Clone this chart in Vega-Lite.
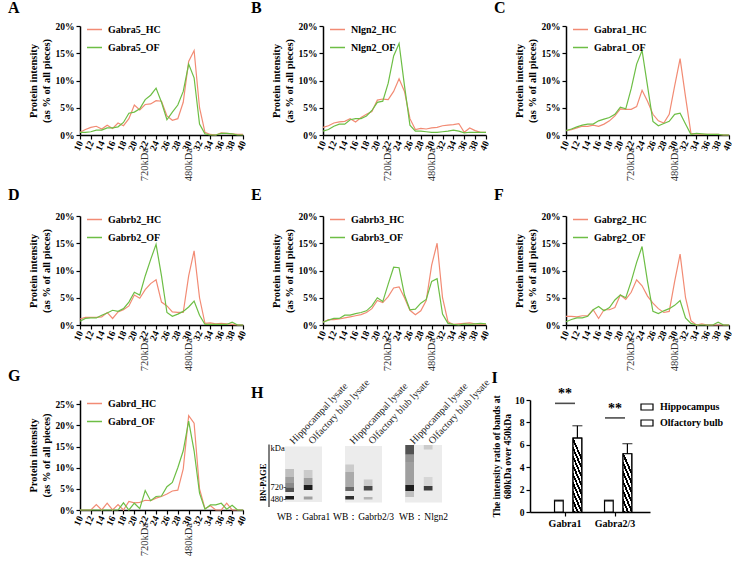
{
  "$schema": "https://vega.github.io/schema/vega-lite/v6.json",
  "padding": {"left": 8, "top": 0, "right": 0, "bottom": 0},
  "background": "white",
  "datasets": {
    "fractions": [
      {"gene": "Gabra5", "fraction": 10, "HC": 0.5, "OF": 0.5},
      {"gene": "Gabra5", "fraction": 11, "HC": 1.0, "OF": 0.5},
      {"gene": "Gabra5", "fraction": 12, "HC": 1.4, "OF": 0.6},
      {"gene": "Gabra5", "fraction": 13, "HC": 1.6, "OF": 0.9},
      {"gene": "Gabra5", "fraction": 14, "HC": 1.1, "OF": 0.9},
      {"gene": "Gabra5", "fraction": 15, "HC": 1.8, "OF": 1.3},
      {"gene": "Gabra5", "fraction": 16, "HC": 1.2, "OF": 1.3},
      {"gene": "Gabra5", "fraction": 17, "HC": 2.2, "OF": 1.5},
      {"gene": "Gabra5", "fraction": 18, "HC": 1.7, "OF": 2.3},
      {"gene": "Gabra5", "fraction": 19, "HC": 3.0, "OF": 4.0},
      {"gene": "Gabra5", "fraction": 20, "HC": 5.5, "OF": 4.2},
      {"gene": "Gabra5", "fraction": 21, "HC": 4.6, "OF": 4.8},
      {"gene": "Gabra5", "fraction": 22, "HC": 5.6, "OF": 6.5},
      {"gene": "Gabra5", "fraction": 23, "HC": 5.7, "OF": 7.3},
      {"gene": "Gabra5", "fraction": 24, "HC": 6.3, "OF": 8.6},
      {"gene": "Gabra5", "fraction": 25, "HC": 6.2, "OF": 6.0},
      {"gene": "Gabra5", "fraction": 26, "HC": 3.5, "OF": 2.8},
      {"gene": "Gabra5", "fraction": 27, "HC": 2.7, "OF": 4.2},
      {"gene": "Gabra5", "fraction": 28, "HC": 3.0, "OF": 5.5},
      {"gene": "Gabra5", "fraction": 29, "HC": 6.0, "OF": 8.0},
      {"gene": "Gabra5", "fraction": 30, "HC": 13.5, "OF": 13.0},
      {"gene": "Gabra5", "fraction": 31, "HC": 15.5, "OF": 10.5},
      {"gene": "Gabra5", "fraction": 32, "HC": 5.0, "OF": 2.0},
      {"gene": "Gabra5", "fraction": 33, "HC": 0.5, "OF": 0.2},
      {"gene": "Gabra5", "fraction": 34, "HC": 0.1, "OF": 0.0},
      {"gene": "Gabra5", "fraction": 35, "HC": 0.0, "OF": 0.0},
      {"gene": "Gabra5", "fraction": 36, "HC": 0.4, "OF": 0.3},
      {"gene": "Gabra5", "fraction": 37, "HC": 0.3, "OF": 0.3},
      {"gene": "Gabra5", "fraction": 38, "HC": 0.2, "OF": 0.2},
      {"gene": "Gabra5", "fraction": 39, "HC": 0.1, "OF": 0.0},
      {"gene": "Gabra5", "fraction": 40, "HC": 0.1, "OF": 0.0},

      {"gene": "Nlgn2", "fraction": 10, "HC": 1.4, "OF": 0.7},
      {"gene": "Nlgn2", "fraction": 11, "HC": 1.7, "OF": 1.0},
      {"gene": "Nlgn2", "fraction": 12, "HC": 2.2, "OF": 1.6},
      {"gene": "Nlgn2", "fraction": 13, "HC": 2.4, "OF": 2.0},
      {"gene": "Nlgn2", "fraction": 14, "HC": 2.5, "OF": 2.0},
      {"gene": "Nlgn2", "fraction": 15, "HC": 3.0, "OF": 2.8},
      {"gene": "Nlgn2", "fraction": 16, "HC": 2.4, "OF": 3.0},
      {"gene": "Nlgn2", "fraction": 17, "HC": 3.2, "OF": 3.0},
      {"gene": "Nlgn2", "fraction": 18, "HC": 3.8, "OF": 3.5},
      {"gene": "Nlgn2", "fraction": 19, "HC": 4.3, "OF": 4.5},
      {"gene": "Nlgn2", "fraction": 20, "HC": 6.4, "OF": 6.0},
      {"gene": "Nlgn2", "fraction": 21, "HC": 6.6, "OF": 6.2},
      {"gene": "Nlgn2", "fraction": 22, "HC": 6.5, "OF": 9.5},
      {"gene": "Nlgn2", "fraction": 23, "HC": 8.0, "OF": 14.5},
      {"gene": "Nlgn2", "fraction": 24, "HC": 10.3, "OF": 16.8},
      {"gene": "Nlgn2", "fraction": 25, "HC": 8.0, "OF": 9.0},
      {"gene": "Nlgn2", "fraction": 26, "HC": 3.0, "OF": 1.8},
      {"gene": "Nlgn2", "fraction": 27, "HC": 1.0, "OF": 0.7},
      {"gene": "Nlgn2", "fraction": 28, "HC": 1.2, "OF": 0.7},
      {"gene": "Nlgn2", "fraction": 29, "HC": 1.1, "OF": 0.6},
      {"gene": "Nlgn2", "fraction": 30, "HC": 1.3, "OF": 0.5},
      {"gene": "Nlgn2", "fraction": 31, "HC": 1.4, "OF": 0.5},
      {"gene": "Nlgn2", "fraction": 32, "HC": 1.7, "OF": 0.6},
      {"gene": "Nlgn2", "fraction": 33, "HC": 1.8, "OF": 0.7},
      {"gene": "Nlgn2", "fraction": 34, "HC": 1.9, "OF": 0.9},
      {"gene": "Nlgn2", "fraction": 35, "HC": 2.1, "OF": 0.7},
      {"gene": "Nlgn2", "fraction": 36, "HC": 0.5, "OF": 0.4},
      {"gene": "Nlgn2", "fraction": 37, "HC": 1.3, "OF": 0.5},
      {"gene": "Nlgn2", "fraction": 38, "HC": 0.8, "OF": 0.5},
      {"gene": "Nlgn2", "fraction": 39, "HC": 0.5, "OF": 0.5},
      {"gene": "Nlgn2", "fraction": 40, "HC": 0.5, "OF": 0.5},

      {"gene": "Gabra1", "fraction": 10, "HC": 0.8, "OF": 0.8},
      {"gene": "Gabra1", "fraction": 11, "HC": 1.0, "OF": 1.1},
      {"gene": "Gabra1", "fraction": 12, "HC": 1.3, "OF": 1.5},
      {"gene": "Gabra1", "fraction": 13, "HC": 1.6, "OF": 1.8},
      {"gene": "Gabra1", "fraction": 14, "HC": 1.6, "OF": 2.0},
      {"gene": "Gabra1", "fraction": 15, "HC": 1.8, "OF": 2.0},
      {"gene": "Gabra1", "fraction": 16, "HC": 1.6, "OF": 2.6},
      {"gene": "Gabra1", "fraction": 17, "HC": 2.0, "OF": 2.9},
      {"gene": "Gabra1", "fraction": 18, "HC": 2.6, "OF": 3.2},
      {"gene": "Gabra1", "fraction": 19, "HC": 3.5, "OF": 3.8},
      {"gene": "Gabra1", "fraction": 20, "HC": 4.8, "OF": 5.1},
      {"gene": "Gabra1", "fraction": 21, "HC": 4.7, "OF": 4.8},
      {"gene": "Gabra1", "fraction": 22, "HC": 4.7, "OF": 8.5},
      {"gene": "Gabra1", "fraction": 23, "HC": 5.2, "OF": 13.0},
      {"gene": "Gabra1", "fraction": 24, "HC": 8.2, "OF": 15.5},
      {"gene": "Gabra1", "fraction": 25, "HC": 6.2, "OF": 9.0},
      {"gene": "Gabra1", "fraction": 26, "HC": 3.8, "OF": 2.5},
      {"gene": "Gabra1", "fraction": 27, "HC": 2.6, "OF": 1.7},
      {"gene": "Gabra1", "fraction": 28, "HC": 2.2, "OF": 2.1},
      {"gene": "Gabra1", "fraction": 29, "HC": 3.8, "OF": 2.5},
      {"gene": "Gabra1", "fraction": 30, "HC": 9.0, "OF": 3.8},
      {"gene": "Gabra1", "fraction": 31, "HC": 14.0, "OF": 4.0},
      {"gene": "Gabra1", "fraction": 32, "HC": 7.0, "OF": 2.0},
      {"gene": "Gabra1", "fraction": 33, "HC": 0.3, "OF": 0.1},
      {"gene": "Gabra1", "fraction": 34, "HC": 0.2, "OF": 0.3},
      {"gene": "Gabra1", "fraction": 35, "HC": 0.1, "OF": 0.2},
      {"gene": "Gabra1", "fraction": 36, "HC": 0.1, "OF": 0.1},
      {"gene": "Gabra1", "fraction": 37, "HC": 0.1, "OF": 0.1},
      {"gene": "Gabra1", "fraction": 38, "HC": 0.1, "OF": 0.1},
      {"gene": "Gabra1", "fraction": 39, "HC": 0.0, "OF": 0.0},
      {"gene": "Gabra1", "fraction": 40, "HC": 0.0, "OF": 0.0},

      {"gene": "Gabrb2", "fraction": 10, "HC": 1.1, "OF": 0.7},
      {"gene": "Gabrb2", "fraction": 11, "HC": 1.4, "OF": 1.2},
      {"gene": "Gabrb2", "fraction": 12, "HC": 1.4, "OF": 1.3},
      {"gene": "Gabrb2", "fraction": 13, "HC": 1.4, "OF": 1.3},
      {"gene": "Gabrb2", "fraction": 14, "HC": 1.5, "OF": 1.8},
      {"gene": "Gabrb2", "fraction": 15, "HC": 2.3, "OF": 2.2},
      {"gene": "Gabrb2", "fraction": 16, "HC": 1.2, "OF": 2.7},
      {"gene": "Gabrb2", "fraction": 17, "HC": 2.4, "OF": 2.5},
      {"gene": "Gabrb2", "fraction": 18, "HC": 2.8, "OF": 3.0},
      {"gene": "Gabrb2", "fraction": 19, "HC": 3.5, "OF": 4.2},
      {"gene": "Gabrb2", "fraction": 20, "HC": 5.5, "OF": 6.0},
      {"gene": "Gabrb2", "fraction": 21, "HC": 4.9, "OF": 5.5},
      {"gene": "Gabrb2", "fraction": 22, "HC": 6.5, "OF": 9.0},
      {"gene": "Gabrb2", "fraction": 23, "HC": 7.6, "OF": 12.0},
      {"gene": "Gabrb2", "fraction": 24, "HC": 8.3, "OF": 14.8},
      {"gene": "Gabrb2", "fraction": 25, "HC": 4.2, "OF": 9.0},
      {"gene": "Gabrb2", "fraction": 26, "HC": 3.5, "OF": 2.3},
      {"gene": "Gabrb2", "fraction": 27, "HC": 2.4, "OF": 1.6},
      {"gene": "Gabrb2", "fraction": 28, "HC": 2.3, "OF": 2.0},
      {"gene": "Gabrb2", "fraction": 29, "HC": 2.3, "OF": 2.5},
      {"gene": "Gabrb2", "fraction": 30, "HC": 9.0, "OF": 3.3},
      {"gene": "Gabrb2", "fraction": 31, "HC": 13.6, "OF": 4.4},
      {"gene": "Gabrb2", "fraction": 32, "HC": 5.0, "OF": 1.8},
      {"gene": "Gabrb2", "fraction": 33, "HC": 0.3, "OF": 0.1},
      {"gene": "Gabrb2", "fraction": 34, "HC": 0.4, "OF": 0.1},
      {"gene": "Gabrb2", "fraction": 35, "HC": 0.2, "OF": 0.1},
      {"gene": "Gabrb2", "fraction": 36, "HC": 0.3, "OF": 0.1},
      {"gene": "Gabrb2", "fraction": 37, "HC": 0.2, "OF": 0.1},
      {"gene": "Gabrb2", "fraction": 38, "HC": 0.1, "OF": 0.5},
      {"gene": "Gabrb2", "fraction": 39, "HC": 0.0, "OF": 0.0},
      {"gene": "Gabrb2", "fraction": 40, "HC": 0.0, "OF": 0.0},

      {"gene": "Gabrb3", "fraction": 10, "HC": 0.5, "OF": 0.5},
      {"gene": "Gabrb3", "fraction": 11, "HC": 1.0, "OF": 0.9},
      {"gene": "Gabrb3", "fraction": 12, "HC": 1.0, "OF": 1.2},
      {"gene": "Gabrb3", "fraction": 13, "HC": 1.1, "OF": 1.2},
      {"gene": "Gabrb3", "fraction": 14, "HC": 1.3, "OF": 1.8},
      {"gene": "Gabrb3", "fraction": 15, "HC": 1.5, "OF": 1.8},
      {"gene": "Gabrb3", "fraction": 16, "HC": 1.7, "OF": 2.1},
      {"gene": "Gabrb3", "fraction": 17, "HC": 1.9, "OF": 2.3},
      {"gene": "Gabrb3", "fraction": 18, "HC": 2.3, "OF": 2.6},
      {"gene": "Gabrb3", "fraction": 19, "HC": 3.0, "OF": 3.5},
      {"gene": "Gabrb3", "fraction": 20, "HC": 4.5, "OF": 5.0},
      {"gene": "Gabrb3", "fraction": 21, "HC": 4.1, "OF": 4.3},
      {"gene": "Gabrb3", "fraction": 22, "HC": 5.2, "OF": 7.5},
      {"gene": "Gabrb3", "fraction": 23, "HC": 6.8, "OF": 10.6},
      {"gene": "Gabrb3", "fraction": 24, "HC": 7.0, "OF": 10.5},
      {"gene": "Gabrb3", "fraction": 25, "HC": 5.0, "OF": 5.5},
      {"gene": "Gabrb3", "fraction": 26, "HC": 2.7, "OF": 2.8},
      {"gene": "Gabrb3", "fraction": 27, "HC": 1.9, "OF": 2.9},
      {"gene": "Gabrb3", "fraction": 28, "HC": 2.6, "OF": 4.0},
      {"gene": "Gabrb3", "fraction": 29, "HC": 4.5, "OF": 4.7},
      {"gene": "Gabrb3", "fraction": 30, "HC": 11.0, "OF": 8.0},
      {"gene": "Gabrb3", "fraction": 31, "HC": 15.0, "OF": 8.5},
      {"gene": "Gabrb3", "fraction": 32, "HC": 5.0, "OF": 2.0},
      {"gene": "Gabrb3", "fraction": 33, "HC": 0.6, "OF": 0.3},
      {"gene": "Gabrb3", "fraction": 34, "HC": 0.1, "OF": 0.1},
      {"gene": "Gabrb3", "fraction": 35, "HC": 0.2, "OF": 0.0},
      {"gene": "Gabrb3", "fraction": 36, "HC": 0.3, "OF": 0.2},
      {"gene": "Gabrb3", "fraction": 37, "HC": 0.4, "OF": 0.1},
      {"gene": "Gabrb3", "fraction": 38, "HC": 0.2, "OF": 0.2},
      {"gene": "Gabrb3", "fraction": 39, "HC": 0.1, "OF": 0.3},
      {"gene": "Gabrb3", "fraction": 40, "HC": 0.1, "OF": 0.2},

      {"gene": "Gabrg2", "fraction": 10, "HC": 1.6, "OF": 0.6},
      {"gene": "Gabrg2", "fraction": 11, "HC": 1.6, "OF": 1.0},
      {"gene": "Gabrg2", "fraction": 12, "HC": 1.5, "OF": 1.3},
      {"gene": "Gabrg2", "fraction": 13, "HC": 1.7, "OF": 1.3},
      {"gene": "Gabrg2", "fraction": 14, "HC": 1.7, "OF": 1.6},
      {"gene": "Gabrg2", "fraction": 15, "HC": 2.8, "OF": 2.8},
      {"gene": "Gabrg2", "fraction": 16, "HC": 1.2, "OF": 3.4},
      {"gene": "Gabrg2", "fraction": 17, "HC": 2.8, "OF": 2.6},
      {"gene": "Gabrg2", "fraction": 18, "HC": 2.8, "OF": 3.2},
      {"gene": "Gabrg2", "fraction": 19, "HC": 3.2, "OF": 4.6},
      {"gene": "Gabrg2", "fraction": 20, "HC": 5.5, "OF": 5.5},
      {"gene": "Gabrg2", "fraction": 21, "HC": 4.7, "OF": 5.0},
      {"gene": "Gabrg2", "fraction": 22, "HC": 6.0, "OF": 8.0},
      {"gene": "Gabrg2", "fraction": 23, "HC": 8.3, "OF": 11.5},
      {"gene": "Gabrg2", "fraction": 24, "HC": 7.2, "OF": 14.4},
      {"gene": "Gabrg2", "fraction": 25, "HC": 5.3, "OF": 8.0},
      {"gene": "Gabrg2", "fraction": 26, "HC": 4.0, "OF": 2.5},
      {"gene": "Gabrg2", "fraction": 27, "HC": 3.0, "OF": 2.1},
      {"gene": "Gabrg2", "fraction": 28, "HC": 2.3, "OF": 2.6},
      {"gene": "Gabrg2", "fraction": 29, "HC": 2.5, "OF": 3.0},
      {"gene": "Gabrg2", "fraction": 30, "HC": 8.0, "OF": 3.6},
      {"gene": "Gabrg2", "fraction": 31, "HC": 13.0, "OF": 4.5},
      {"gene": "Gabrg2", "fraction": 32, "HC": 5.0, "OF": 1.3},
      {"gene": "Gabrg2", "fraction": 33, "HC": 0.8, "OF": 0.3},
      {"gene": "Gabrg2", "fraction": 34, "HC": 0.0, "OF": 0.0},
      {"gene": "Gabrg2", "fraction": 35, "HC": 0.2, "OF": 0.0},
      {"gene": "Gabrg2", "fraction": 36, "HC": 0.0, "OF": 0.0},
      {"gene": "Gabrg2", "fraction": 37, "HC": 0.0, "OF": 0.0},
      {"gene": "Gabrg2", "fraction": 38, "HC": 0.0, "OF": 0.5},
      {"gene": "Gabrg2", "fraction": 39, "HC": 0.0, "OF": 0.0},
      {"gene": "Gabrg2", "fraction": 40, "HC": 0.0, "OF": 0.0},

      {"gene": "Gabrd", "fraction": 10, "HC": 0.0, "OF": 0.0},
      {"gene": "Gabrd", "fraction": 11, "HC": 0.0, "OF": 0.0},
      {"gene": "Gabrd", "fraction": 12, "HC": 0.0, "OF": 0.0},
      {"gene": "Gabrd", "fraction": 13, "HC": 1.3, "OF": 0.0},
      {"gene": "Gabrd", "fraction": 14, "HC": 0.0, "OF": 0.0},
      {"gene": "Gabrd", "fraction": 15, "HC": 1.6, "OF": 0.0},
      {"gene": "Gabrd", "fraction": 16, "HC": 0.0, "OF": 0.0},
      {"gene": "Gabrd", "fraction": 17, "HC": 1.3, "OF": 0.0},
      {"gene": "Gabrd", "fraction": 18, "HC": 0.0, "OF": 1.7},
      {"gene": "Gabrd", "fraction": 19, "HC": 2.0, "OF": 0.0},
      {"gene": "Gabrd", "fraction": 20, "HC": 1.7, "OF": 1.6},
      {"gene": "Gabrd", "fraction": 21, "HC": 1.8, "OF": 0.3},
      {"gene": "Gabrd", "fraction": 22, "HC": 2.3, "OF": 4.6},
      {"gene": "Gabrd", "fraction": 23, "HC": 2.2, "OF": 2.2},
      {"gene": "Gabrd", "fraction": 24, "HC": 2.8, "OF": 3.2},
      {"gene": "Gabrd", "fraction": 25, "HC": 3.2, "OF": 3.3},
      {"gene": "Gabrd", "fraction": 26, "HC": 3.8, "OF": 5.5},
      {"gene": "Gabrd", "fraction": 27, "HC": 4.5, "OF": 6.5},
      {"gene": "Gabrd", "fraction": 28, "HC": 4.7, "OF": 10.0},
      {"gene": "Gabrd", "fraction": 29, "HC": 9.7, "OF": 14.0},
      {"gene": "Gabrd", "fraction": 30, "HC": 22.3, "OF": 21.0},
      {"gene": "Gabrd", "fraction": 31, "HC": 20.5, "OF": 14.0},
      {"gene": "Gabrd", "fraction": 32, "HC": 5.0, "OF": 4.0},
      {"gene": "Gabrd", "fraction": 33, "HC": 0.3, "OF": 0.2},
      {"gene": "Gabrd", "fraction": 34, "HC": 1.0, "OF": 1.2},
      {"gene": "Gabrd", "fraction": 35, "HC": 0.0, "OF": 1.2},
      {"gene": "Gabrd", "fraction": 36, "HC": 0.0, "OF": 1.6},
      {"gene": "Gabrd", "fraction": 37, "HC": 1.6, "OF": 0.2},
      {"gene": "Gabrd", "fraction": 38, "HC": 0.0, "OF": 1.1},
      {"gene": "Gabrd", "fraction": 39, "HC": 0.0, "OF": 0.0},
      {"gene": "Gabrd", "fraction": 40, "HC": 0.0, "OF": 0.0}
    ],
    "markers": [
      {"marker": "720kDa", "fraction": 22},
      {"marker": "480kDa", "fraction": 30}
    ],
    "blots": [
      {"blot": "Gabra1", "lo": 400, "hi": 1510},
      {"blot": "Gabrb2/3", "lo": 390, "hi": 1520},
      {"blot": "Nlgn2", "lo": 390, "hi": 1540}
    ],
    "lanes": [
      {"blot": "Gabra1", "lane": "Hippocampal lysate"},
      {"blot": "Gabra1", "lane": "Olfactory blub lysate"},
      {"blot": "Gabrb2/3", "lane": "Hippocampal lysate"},
      {"blot": "Gabrb2/3", "lane": "Olfactory blub lysate"},
      {"blot": "Nlgn2", "lane": "Hippocampal lysate"},
      {"blot": "Nlgn2", "lane": "Olfactory blub lysate"}
    ],
    "bands": [
      {"blot": "Gabra1", "lane": "Hippocampal lysate", "lo": 450, "hi": 520, "intensity": 0.95},
      {"blot": "Gabra1", "lane": "Hippocampal lysate", "lo": 600, "hi": 690, "intensity": 0.7},
      {"blot": "Gabra1", "lane": "Hippocampal lysate", "lo": 690, "hi": 780, "intensity": 0.45},
      {"blot": "Gabra1", "lane": "Hippocampal lysate", "lo": 780, "hi": 900, "intensity": 0.35},
      {"blot": "Gabra1", "lane": "Hippocampal lysate", "lo": 900, "hi": 1060, "intensity": 0.2},
      {"blot": "Gabra1", "lane": "Olfactory blub lysate", "lo": 640, "hi": 740, "intensity": 0.95},
      {"blot": "Gabra1", "lane": "Olfactory blub lysate", "lo": 450, "hi": 510, "intensity": 0.35},
      {"blot": "Gabra1", "lane": "Olfactory blub lysate", "lo": 740, "hi": 880, "intensity": 0.35},
      {"blot": "Gabra1", "lane": "Olfactory blub lysate", "lo": 880, "hi": 1040, "intensity": 0.15},
      {"blot": "Gabrb2/3", "lane": "Hippocampal lysate", "lo": 450, "hi": 520, "intensity": 0.85},
      {"blot": "Gabrb2/3", "lane": "Hippocampal lysate", "lo": 620, "hi": 700, "intensity": 0.6},
      {"blot": "Gabrb2/3", "lane": "Hippocampal lysate", "lo": 700, "hi": 1000, "intensity": 0.3},
      {"blot": "Gabrb2/3", "lane": "Hippocampal lysate", "lo": 1000, "hi": 1150, "intensity": 0.15},
      {"blot": "Gabrb2/3", "lane": "Olfactory blub lysate", "lo": 630, "hi": 720, "intensity": 0.75},
      {"blot": "Gabrb2/3", "lane": "Olfactory blub lysate", "lo": 450, "hi": 500, "intensity": 0.25},
      {"blot": "Gabrb2/3", "lane": "Olfactory blub lysate", "lo": 720, "hi": 850, "intensity": 0.15},
      {"blot": "Nlgn2", "lane": "Hippocampal lysate", "lo": 620, "hi": 740, "intensity": 0.95},
      {"blot": "Nlgn2", "lane": "Hippocampal lysate", "lo": 740, "hi": 1200, "intensity": 0.35},
      {"blot": "Nlgn2", "lane": "Hippocampal lysate", "lo": 1200, "hi": 1350, "intensity": 0.4},
      {"blot": "Nlgn2", "lane": "Hippocampal lysate", "lo": 1350, "hi": 1540, "intensity": 0.7},
      {"blot": "Nlgn2", "lane": "Hippocampal lysate", "lo": 500, "hi": 620, "intensity": 0.2},
      {"blot": "Nlgn2", "lane": "Olfactory blub lysate", "lo": 630, "hi": 720, "intensity": 0.8},
      {"blot": "Nlgn2", "lane": "Olfactory blub lysate", "lo": 720, "hi": 900, "intensity": 0.1},
      {"blot": "Nlgn2", "lane": "Olfactory blub lysate", "lo": 1450, "hi": 1540, "intensity": 0.15}
    ],
    "ratios": [
      {"gene": "Gabra1", "tissue": "Hippocampus", "mean": 1.0, "upper": 1.06},
      {"gene": "Gabra1", "tissue": "Olfactory bulb", "mean": 6.6, "upper": 7.7},
      {"gene": "Gabra2/3", "tissue": "Hippocampus", "mean": 1.0, "upper": 1.06},
      {"gene": "Gabra2/3", "tissue": "Olfactory bulb", "mean": 5.2, "upper": 6.1}
    ],
    "significance": [
      {"gene": "Gabra1", "level": 9.7, "label": "**"},
      {"gene": "Gabra2/3", "level": 8.4, "label": "**"}
    ]
  },
  "vconcat": [
    {
      "vconcat": [
        {
          "hconcat": [
            {
              "width": 163, "height": 109,
              "title": {"text": "A", "dx": -20, "offset": 5},
              "layer": [
                {
                  "data": {"name": "fractions"},
                  "transform": [{"filter": "datum.gene === 'Gabra5'"}, {"fold": ["HC", "OF"], "as": ["group", "value"]}],
                  "mark": {"type": "line", "strokeWidth": 1.2},
                  "encoding": {
                    "x": {"field": "fraction", "type": "quantitative", "scale": {"domain": [10, 40], "nice": false}, "axis": {"values": [10, 12, 14, 16, 18, 20, 22, 24, 26, 28, 30, 32, 34, 36, 38, 40], "tickCount": 40, "labelAngle": -65, "labelOverlap": false, "title": null}},
                    "y": {"field": "value", "type": "quantitative", "scale": {"domain": [0, 20]}, "axis": {"values": [0, 5, 10, 15, 20], "tickCount": 40, "labelOverlap": false, "labelExpr": "datum.value + '%'", "title": ["Protein intensity", "(as % of all pieces)"]}},
                    "color": {"field": "group", "type": "nominal", "scale": {"domain": ["HC", "OF"], "range": ["#F28B74", "#6DBE45"]}, "legend": {"title": null, "labelExpr": "'Gabra5_' + datum.label"}}
                  }
                },
                {
                  "data": {"name": "markers"},
                  "mark": {"type": "text", "angle": 270, "align": "right", "baseline": "middle", "dx": -13, "fontSize": 10.5, "color": "#333333"},
                  "encoding": {"x": {"field": "fraction", "type": "quantitative"}, "y": {"datum": 0}, "text": {"field": "marker"}}
                }
              ]
            },
            {
              "width": 163, "height": 109,
              "title": {"text": "B", "dx": -20, "offset": 5},
              "layer": [
                {
                  "data": {"name": "fractions"},
                  "transform": [{"filter": "datum.gene === 'Nlgn2'"}, {"fold": ["HC", "OF"], "as": ["group", "value"]}],
                  "mark": {"type": "line", "strokeWidth": 1.2},
                  "encoding": {
                    "x": {"field": "fraction", "type": "quantitative", "scale": {"domain": [10, 40], "nice": false}, "axis": {"values": [10, 12, 14, 16, 18, 20, 22, 24, 26, 28, 30, 32, 34, 36, 38, 40], "tickCount": 40, "labelAngle": -65, "labelOverlap": false, "title": null}},
                    "y": {"field": "value", "type": "quantitative", "scale": {"domain": [0, 20]}, "axis": {"values": [0, 5, 10, 15, 20], "tickCount": 40, "labelOverlap": false, "labelExpr": "datum.value + '%'", "title": ["Protein intensity", "(as % of all pieces)"]}},
                    "color": {"field": "group", "type": "nominal", "scale": {"domain": ["HC", "OF"], "range": ["#F28B74", "#6DBE45"]}, "legend": {"title": null, "labelExpr": "'Nlgn2_' + datum.label"}}
                  }
                },
                {
                  "data": {"name": "markers"},
                  "mark": {"type": "text", "angle": 270, "align": "right", "baseline": "middle", "dx": -13, "fontSize": 10.5, "color": "#333333"},
                  "encoding": {"x": {"field": "fraction", "type": "quantitative"}, "y": {"datum": 0}, "text": {"field": "marker"}}
                }
              ]
            },
            {
              "width": 163, "height": 109,
              "title": {"text": "C", "dx": -20, "offset": 5},
              "layer": [
                {
                  "data": {"name": "fractions"},
                  "transform": [{"filter": "datum.gene === 'Gabra1'"}, {"fold": ["HC", "OF"], "as": ["group", "value"]}],
                  "mark": {"type": "line", "strokeWidth": 1.2},
                  "encoding": {
                    "x": {"field": "fraction", "type": "quantitative", "scale": {"domain": [10, 40], "nice": false}, "axis": {"values": [10, 12, 14, 16, 18, 20, 22, 24, 26, 28, 30, 32, 34, 36, 38, 40], "tickCount": 40, "labelAngle": -65, "labelOverlap": false, "title": null}},
                    "y": {"field": "value", "type": "quantitative", "scale": {"domain": [0, 20]}, "axis": {"values": [0, 5, 10, 15, 20], "tickCount": 40, "labelOverlap": false, "labelExpr": "datum.value + '%'", "title": ["Protein intensity", "(as % of all pieces)"]}},
                    "color": {"field": "group", "type": "nominal", "scale": {"domain": ["HC", "OF"], "range": ["#F28B74", "#6DBE45"]}, "legend": {"title": null, "labelExpr": "'Gabra1_' + datum.label"}}
                  }
                },
                {
                  "data": {"name": "markers"},
                  "mark": {"type": "text", "angle": 270, "align": "right", "baseline": "middle", "dx": -13, "fontSize": 10.5, "color": "#333333"},
                  "encoding": {"x": {"field": "fraction", "type": "quantitative"}, "y": {"datum": 0}, "text": {"field": "marker"}}
                }
              ]
            }
          ],
          "spacing": 3,
          "resolve": {"scale": {"color": "independent"}, "legend": {"color": "independent"}}
        },
        {
          "hconcat": [
            {
              "width": 163, "height": 109,
              "title": {"text": "D", "dx": -20, "offset": 8},
              "layer": [
                {
                  "data": {"name": "fractions"},
                  "transform": [{"filter": "datum.gene === 'Gabrb2'"}, {"fold": ["HC", "OF"], "as": ["group", "value"]}],
                  "mark": {"type": "line", "strokeWidth": 1.2},
                  "encoding": {
                    "x": {"field": "fraction", "type": "quantitative", "scale": {"domain": [10, 40], "nice": false}, "axis": {"values": [10, 12, 14, 16, 18, 20, 22, 24, 26, 28, 30, 32, 34, 36, 38, 40], "tickCount": 40, "labelAngle": -65, "labelOverlap": false, "title": null}},
                    "y": {"field": "value", "type": "quantitative", "scale": {"domain": [0, 20]}, "axis": {"values": [0, 5, 10, 15, 20], "tickCount": 40, "labelOverlap": false, "labelExpr": "datum.value + '%'", "title": ["Protein intensity", "(as % of all pieces)"]}},
                    "color": {"field": "group", "type": "nominal", "scale": {"domain": ["HC", "OF"], "range": ["#F28B74", "#6DBE45"]}, "legend": {"title": null, "labelExpr": "'Gabrb2_' + datum.label"}}
                  }
                },
                {
                  "data": {"name": "markers"},
                  "mark": {"type": "text", "angle": 270, "align": "right", "baseline": "middle", "dx": -13, "fontSize": 10.5, "color": "#333333"},
                  "encoding": {"x": {"field": "fraction", "type": "quantitative"}, "y": {"datum": 0}, "text": {"field": "marker"}}
                }
              ]
            },
            {
              "width": 163, "height": 109,
              "title": {"text": "E", "dx": -20, "offset": 8},
              "layer": [
                {
                  "data": {"name": "fractions"},
                  "transform": [{"filter": "datum.gene === 'Gabrb3'"}, {"fold": ["HC", "OF"], "as": ["group", "value"]}],
                  "mark": {"type": "line", "strokeWidth": 1.2},
                  "encoding": {
                    "x": {"field": "fraction", "type": "quantitative", "scale": {"domain": [10, 40], "nice": false}, "axis": {"values": [10, 12, 14, 16, 18, 20, 22, 24, 26, 28, 30, 32, 34, 36, 38, 40], "tickCount": 40, "labelAngle": -65, "labelOverlap": false, "title": null}},
                    "y": {"field": "value", "type": "quantitative", "scale": {"domain": [0, 20]}, "axis": {"values": [0, 5, 10, 15, 20], "tickCount": 40, "labelOverlap": false, "labelExpr": "datum.value + '%'", "title": ["Protein intensity", "(as % of all pieces)"]}},
                    "color": {"field": "group", "type": "nominal", "scale": {"domain": ["HC", "OF"], "range": ["#F28B74", "#6DBE45"]}, "legend": {"title": null, "labelExpr": "'Gabrb3_' + datum.label"}}
                  }
                },
                {
                  "data": {"name": "markers"},
                  "mark": {"type": "text", "angle": 270, "align": "right", "baseline": "middle", "dx": -13, "fontSize": 10.5, "color": "#333333"},
                  "encoding": {"x": {"field": "fraction", "type": "quantitative"}, "y": {"datum": 0}, "text": {"field": "marker"}}
                }
              ]
            },
            {
              "width": 163, "height": 109,
              "title": {"text": "F", "dx": -20, "offset": 8},
              "layer": [
                {
                  "data": {"name": "fractions"},
                  "transform": [{"filter": "datum.gene === 'Gabrg2'"}, {"fold": ["HC", "OF"], "as": ["group", "value"]}],
                  "mark": {"type": "line", "strokeWidth": 1.2},
                  "encoding": {
                    "x": {"field": "fraction", "type": "quantitative", "scale": {"domain": [10, 40], "nice": false}, "axis": {"values": [10, 12, 14, 16, 18, 20, 22, 24, 26, 28, 30, 32, 34, 36, 38, 40], "tickCount": 40, "labelAngle": -65, "labelOverlap": false, "title": null}},
                    "y": {"field": "value", "type": "quantitative", "scale": {"domain": [0, 20]}, "axis": {"values": [0, 5, 10, 15, 20], "tickCount": 40, "labelOverlap": false, "labelExpr": "datum.value + '%'", "title": ["Protein intensity", "(as % of all pieces)"]}},
                    "color": {"field": "group", "type": "nominal", "scale": {"domain": ["HC", "OF"], "range": ["#F28B74", "#6DBE45"]}, "legend": {"title": null, "labelExpr": "'Gabrg2_' + datum.label"}}
                  }
                },
                {
                  "data": {"name": "markers"},
                  "mark": {"type": "text", "angle": 270, "align": "right", "baseline": "middle", "dx": -13, "fontSize": 10.5, "color": "#333333"},
                  "encoding": {"x": {"field": "fraction", "type": "quantitative"}, "y": {"datum": 0}, "text": {"field": "marker"}}
                }
              ]
            }
          ],
          "spacing": 3,
          "resolve": {"scale": {"color": "independent"}, "legend": {"color": "independent"}}
        }
      ],
      "spacing": 5,
      "resolve": {"scale": {"color": "independent"}, "legend": {"color": "independent"}}
    },
    {
      "hconcat": [
        {
          "width": 163, "height": 110,
          "title": {"text": "G", "dx": -20, "offset": 11},
          "layer": [
            {
              "data": {"name": "fractions"},
              "transform": [{"filter": "datum.gene === 'Gabrd'"}, {"fold": ["HC", "OF"], "as": ["group", "value"]}],
              "mark": {"type": "line", "strokeWidth": 1.2},
              "encoding": {
                "x": {"field": "fraction", "type": "quantitative", "scale": {"domain": [10, 40], "nice": false}, "axis": {"values": [10, 12, 14, 16, 18, 20, 22, 24, 26, 28, 30, 32, 34, 36, 38, 40], "tickCount": 40, "labelAngle": -65, "labelOverlap": false, "title": null}},
                "y": {"field": "value", "type": "quantitative", "scale": {"domain": [0, 25]}, "axis": {"values": [0, 5, 10, 15, 20, 25], "tickCount": 40, "labelOverlap": false, "labelExpr": "datum.value + '%'", "title": ["Protein intensity", "(as % of all pieces)"]}},
                "color": {"field": "group", "type": "nominal", "scale": {"domain": ["HC", "OF"], "range": ["#F28B74", "#6DBE45"]}, "legend": {"title": null, "labelExpr": "'Gabrd_' + datum.label"}}
              }
            },
            {
              "data": {"name": "markers"},
              "mark": {"type": "text", "angle": 270, "align": "right", "baseline": "middle", "dx": -13, "fontSize": 10.5, "color": "#333333"},
              "encoding": {"x": {"field": "fraction", "type": "quantitative"}, "y": {"datum": 0}, "text": {"field": "marker"}}
            }
          ]
        },
        {
          "width": 203, "height": 107,
          "title": {"text": "H", "dx": -7, "offset": -23},
          "layer": [
            {
              "data": {"name": "blots"},
              "mark": {"type": "bar", "color": "#ececec"},
              "encoding": {
                "x": {"field": "blot", "type": "nominal", "sort": ["Gabra1", "Gabrb2/3", "Nlgn2"], "scale": {"paddingInner": 0.383, "paddingOuter": 0.383, "align": 0}, "axis": {"title": null, "labelExpr": "'WB：' + datum.value", "domain": false, "ticks": false, "labelAngle": 0, "labelOverlap": false, "labelFontWeight": "normal", "labelFontSize": 9.5, "labelPadding": 4}},
                "y": {"field": "lo", "type": "quantitative", "scale": {"domain": [300, 2440], "nice": false, "zero": false}, "axis": {"orient": "left", "offset": 16, "zindex": 1, "values": [1500, 720, 480], "tickCount": 40, "labelOverlap": false, "labelExpr": "datum.value >= 1500 ? 'kDa' : datum.value + '-'", "domain": false, "ticks": false, "tickSize": 0, "labelAlign": "left", "labelPadding": -1, "labelFontWeight": "normal", "labelFontSize": 8.5, "title": "BN-PAGE", "titleFontSize": 8.5, "titlePadding": 2, "titleY": 82}},
                "y2": {"field": "hi"}
              }
            },
            {
              "data": {"name": "blots"},
              "transform": [{"filter": "datum.blot === 'Gabra1'"}],
              "mark": {"type": "rule", "color": "black", "strokeWidth": 1},
              "encoding": {
                "x": {"field": "blot", "type": "nominal", "sort": ["Gabra1", "Gabrb2/3", "Nlgn2"], "bandPosition": 0},
                "xOffset": {"value": -16},
                "y": {"datum": 300, "type": "quantitative"},
                "y2": {"datum": 1550}
              }
            },
            {
              "data": {"name": "bands"},
              "mark": {"type": "bar", "color": "#111111"},
              "encoding": {
                "x": {"field": "blot", "type": "nominal", "sort": ["Gabra1", "Gabrb2/3", "Nlgn2"]},
                "xOffset": {"field": "lane", "type": "nominal", "sort": ["Hippocampal lysate", "Olfactory blub lysate"], "scale": {"paddingInner": 0.06, "paddingOuter": 0.03}},
                "y": {"field": "lo", "type": "quantitative"},
                "y2": {"field": "hi"},
                "opacity": {"field": "intensity", "type": "quantitative", "scale": null}
              }
            },
            {
              "data": {"name": "lanes"},
              "mark": {"type": "text", "angle": 313, "align": "left", "baseline": "middle", "dx": 3, "fontSize": 10, "color": "#222222"},
              "encoding": {
                "x": {"field": "blot", "type": "nominal", "sort": ["Gabra1", "Gabrb2/3", "Nlgn2"]},
                "xOffset": {"field": "lane", "type": "nominal", "sort": ["Hippocampal lysate", "Olfactory blub lysate"]},
                "y": {"datum": 1540},
                "text": {"field": "lane"}
              }
            }
          ]
        },
        {
          "width": 120, "height": 112,
          "title": {"text": "I", "dx": 0, "offset": 1},
          "layer": [
            {
              "data": {"name": "ratios"},
              "mark": {"type": "bar", "stroke": "black", "strokeWidth": 1.2},
              "encoding": {
                "x": {"field": "gene", "type": "nominal", "sort": ["Gabra1", "Gabra2/3"], "scale": {"paddingInner": 0.2, "paddingOuter": 0.3}, "axis": {"title": null, "labelAngle": 0, "labelOverlap": false, "labelFontSize": 10}},
                "xOffset": {"field": "tissue", "type": "nominal", "sort": ["Hippocampus", "Olfactory bulb"], "scale": {"paddingInner": 0, "paddingOuter": 0}},
                "y": {"field": "mean", "type": "quantitative", "scale": {"domain": [0, 10]}, "axis": {"values": [0, 2, 4, 6, 8, 10], "format": "d", "tickCount": 40, "labelOverlap": false, "title": ["The intensity ratio of bands at", "680kDa  over 450kDa"], "titleFontSize": 9.5, "titleLineHeight": 11, "titlePadding": 2}},
                "fill": {
                  "field": "tissue", "type": "nominal",
                  "scale": {"domain": ["Hippocampus", "Olfactory bulb"], "range": ["white", "white"]},
                  "legend": {
                    "title": null, "orient": "right", "offset": -10,
                    "symbolType": "M-1,-0.5H1V0.5H-1Z", "symbolSize": 144, "symbolStrokeColor": "black", "symbolStrokeWidth": 1.2, "symbolOpacity": 1,
                    "labelFontSize": 10, "labelOffset": 6, "rowPadding": 3,
                    "encode": {"symbols": {"update": {
                      "stroke": {"value": "black"},
                      "strokeWidth": {"value": 1.2},
                      "opacity": {"value": 1},
                      "fill": [
                        {"test": "datum.label === 'Olfactory bulb'", "value": {"gradient": "linear", "x1": 0, "y1": 1, "x2": 2, "y2": 0, "stops": [
                          {"offset": 0, "color": "black"}, {"offset": 0.0714, "color": "black"}, {"offset": 0.0714, "color": "white"}, {"offset": 0.1429, "color": "white"},
                          {"offset": 0.1429, "color": "black"}, {"offset": 0.2143, "color": "black"}, {"offset": 0.2143, "color": "white"}, {"offset": 0.2857, "color": "white"},
                          {"offset": 0.2857, "color": "black"}, {"offset": 0.3571, "color": "black"}, {"offset": 0.3571, "color": "white"}, {"offset": 0.4286, "color": "white"},
                          {"offset": 0.4286, "color": "black"}, {"offset": 0.5, "color": "black"}, {"offset": 0.5, "color": "white"}, {"offset": 0.5714, "color": "white"},
                          {"offset": 0.5714, "color": "black"}, {"offset": 0.6429, "color": "black"}, {"offset": 0.6429, "color": "white"}, {"offset": 0.7143, "color": "white"},
                          {"offset": 0.7143, "color": "black"}, {"offset": 0.7857, "color": "black"}, {"offset": 0.7857, "color": "white"}, {"offset": 0.8571, "color": "white"},
                          {"offset": 0.8571, "color": "black"}, {"offset": 0.9286, "color": "black"}, {"offset": 0.9286, "color": "white"}, {"offset": 1, "color": "white"}
                        ]}},
                        {"value": "white"}
                      ]
                    }}}
                  }
                }
              }
            },
            {
              "data": {"name": "ratios"},
              "transform": [{"filter": "datum.tissue === 'Olfactory bulb' && datum.gene === 'Gabra1'"}],
              "mark": {"type": "bar", "stroke": "black", "strokeWidth": 1.2, "fill": {"gradient": "linear", "x1": 0, "y1": 1, "x2": 0.27, "y2": 0, "stops": [
                {"offset": 0, "color": "black"}, {"offset": 0.0556, "color": "black"}, {"offset": 0.0556, "color": "white"}, {"offset": 0.1111, "color": "white"},
                {"offset": 0.1111, "color": "black"}, {"offset": 0.1667, "color": "black"}, {"offset": 0.1667, "color": "white"}, {"offset": 0.2222, "color": "white"},
                {"offset": 0.2222, "color": "black"}, {"offset": 0.2778, "color": "black"}, {"offset": 0.2778, "color": "white"}, {"offset": 0.3333, "color": "white"},
                {"offset": 0.3333, "color": "black"}, {"offset": 0.3889, "color": "black"}, {"offset": 0.3889, "color": "white"}, {"offset": 0.4444, "color": "white"},
                {"offset": 0.4444, "color": "black"}, {"offset": 0.5, "color": "black"}, {"offset": 0.5, "color": "white"}, {"offset": 0.5556, "color": "white"},
                {"offset": 0.5556, "color": "black"}, {"offset": 0.6111, "color": "black"}, {"offset": 0.6111, "color": "white"}, {"offset": 0.6667, "color": "white"},
                {"offset": 0.6667, "color": "black"}, {"offset": 0.7222, "color": "black"}, {"offset": 0.7222, "color": "white"}, {"offset": 0.7778, "color": "white"},
                {"offset": 0.7778, "color": "black"}, {"offset": 0.8333, "color": "black"}, {"offset": 0.8333, "color": "white"}, {"offset": 0.8889, "color": "white"},
                {"offset": 0.8889, "color": "black"}, {"offset": 0.9444, "color": "black"}, {"offset": 0.9444, "color": "white"}, {"offset": 1, "color": "white"}
              ]}},
              "encoding": {
                "x": {"field": "gene", "type": "nominal", "sort": ["Gabra1", "Gabra2/3"]},
                "xOffset": {"field": "tissue", "type": "nominal", "sort": ["Hippocampus", "Olfactory bulb"]},
                "y": {"field": "mean", "type": "quantitative"}
              }
            },
            {
              "data": {"name": "ratios"},
              "transform": [{"filter": "datum.tissue === 'Olfactory bulb' && datum.gene === 'Gabra2/3'"}],
              "mark": {"type": "bar", "stroke": "black", "strokeWidth": 1.2, "fill": {"gradient": "linear", "x1": 0, "y1": 1, "x2": 0.345, "y2": 0, "stops": [
                {"offset": 0, "color": "black"}, {"offset": 0.0714, "color": "black"}, {"offset": 0.0714, "color": "white"}, {"offset": 0.1429, "color": "white"},
                {"offset": 0.1429, "color": "black"}, {"offset": 0.2143, "color": "black"}, {"offset": 0.2143, "color": "white"}, {"offset": 0.2857, "color": "white"},
                {"offset": 0.2857, "color": "black"}, {"offset": 0.3571, "color": "black"}, {"offset": 0.3571, "color": "white"}, {"offset": 0.4286, "color": "white"},
                {"offset": 0.4286, "color": "black"}, {"offset": 0.5, "color": "black"}, {"offset": 0.5, "color": "white"}, {"offset": 0.5714, "color": "white"},
                {"offset": 0.5714, "color": "black"}, {"offset": 0.6429, "color": "black"}, {"offset": 0.6429, "color": "white"}, {"offset": 0.7143, "color": "white"},
                {"offset": 0.7143, "color": "black"}, {"offset": 0.7857, "color": "black"}, {"offset": 0.7857, "color": "white"}, {"offset": 0.8571, "color": "white"},
                {"offset": 0.8571, "color": "black"}, {"offset": 0.9286, "color": "black"}, {"offset": 0.9286, "color": "white"}, {"offset": 1, "color": "white"}
              ]}},
              "encoding": {
                "x": {"field": "gene", "type": "nominal", "sort": ["Gabra1", "Gabra2/3"]},
                "xOffset": {"field": "tissue", "type": "nominal", "sort": ["Hippocampus", "Olfactory bulb"]},
                "y": {"field": "mean", "type": "quantitative"}
              }
            },
            {
              "data": {"name": "ratios"},
              "mark": {"type": "rule", "strokeWidth": 1.2, "color": "black"},
              "encoding": {
                "x": {"field": "gene", "type": "nominal", "sort": ["Gabra1", "Gabra2/3"]},
                "xOffset": {"field": "tissue", "type": "nominal", "sort": ["Hippocampus", "Olfactory bulb"]},
                "y": {"field": "mean", "type": "quantitative"},
                "y2": {"field": "upper"}
              }
            },
            {
              "data": {"name": "ratios"},
              "mark": {"type": "tick", "orient": "horizontal", "size": 10, "thickness": 1.2, "color": "black"},
              "encoding": {
                "x": {"field": "gene", "type": "nominal", "sort": ["Gabra1", "Gabra2/3"]},
                "xOffset": {"field": "tissue", "type": "nominal", "sort": ["Hippocampus", "Olfactory bulb"]},
                "y": {"field": "upper", "type": "quantitative"}
              }
            },
            {
              "data": {"name": "significance"},
              "mark": {"type": "tick", "orient": "horizontal", "size": 20, "thickness": 1.6, "color": "black"},
              "encoding": {
                "x": {"field": "gene", "type": "nominal", "sort": ["Gabra1", "Gabra2/3"]},
                "y": {"field": "level", "type": "quantitative"}
              }
            },
            {
              "data": {"name": "significance"},
              "mark": {"type": "text", "baseline": "bottom", "dy": -2, "fontSize": 14, "fontWeight": "bold", "color": "black"},
              "encoding": {
                "x": {"field": "gene", "type": "nominal", "sort": ["Gabra1", "Gabra2/3"]},
                "y": {"field": "level", "type": "quantitative"},
                "text": {"field": "label"}
              }
            }
          ]
        }
      ],
      "spacing": 42,
      "bounds": "flush",
      "resolve": {"scale": {"color": "independent", "fill": "independent"}, "legend": {"color": "independent", "fill": "independent"}}
    }
  ],
  "spacing": -4,
  "resolve": {"scale": {"color": "independent", "fill": "independent"}, "legend": {"color": "independent", "fill": "independent"}},
  "config": {
    "font": "Liberation Serif",
    "view": {"stroke": null},
    "axis": {
      "labelFont": "Liberation Serif", "titleFont": "Liberation Serif",
      "labelFontWeight": "bold", "titleFontWeight": "bold",
      "labelFontSize": 9.5, "titleFontSize": 10.5, "titleLineHeight": 13,
      "labelColor": "black", "titleColor": "black",
      "domainColor": "black", "tickColor": "black",
      "domainWidth": 1.5, "tickWidth": 1.2, "tickSize": 4,
      "labelPadding": 2, "titlePadding": 4, "grid": false, "labelOverlap": false
    },
    "legend": {
      "labelFont": "Liberation Serif", "labelFontWeight": "bold", "labelFontSize": 10, "labelColor": "black",
      "symbolType": "stroke", "symbolSize": 225, "symbolStrokeWidth": 1.5, "labelOffset": 5,
      "orient": "none", "legendX": 6, "legendY": -5, "padding": 0, "rowPadding": 4
    },
    "title": {
      "font": "Liberation Serif", "fontSize": 16, "fontWeight": "bold", "color": "black",
      "anchor": "start", "frame": "bounds", "baseline": "alphabetic"
    },
    "text": {"font": "Liberation Serif"}
  }
}
